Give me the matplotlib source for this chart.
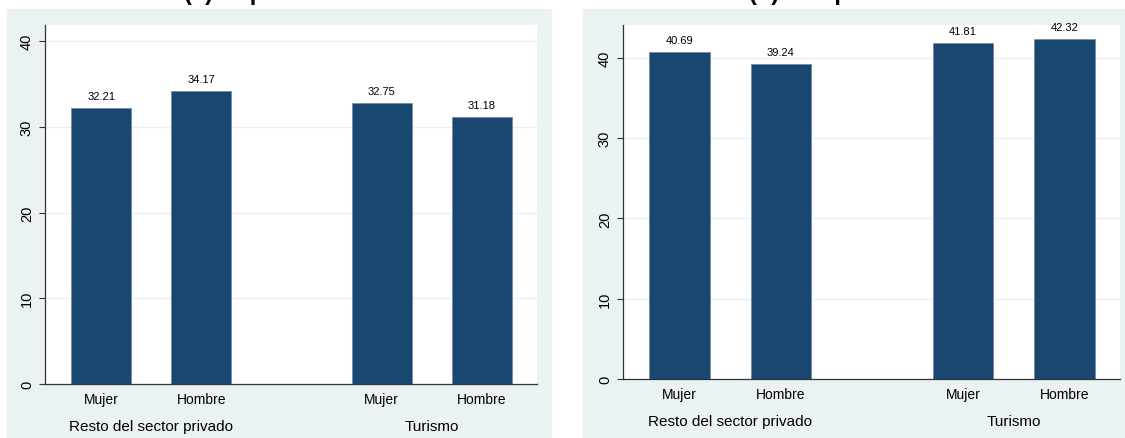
import matplotlib
matplotlib.use("Agg")
import matplotlib.pyplot as plt
from matplotlib.patches import Rectangle

plt.rcParams["font.family"] = ["Liberation Sans", "DejaVu Sans"]

# data
sexes = ["Mujer", "Hombre"]
sectors = ["Resto del sector privado", "Turismo"]
titles = ["(a) Dependientes", "(b) Independientes"]
dependientes = [32.21, 34.17, 32.75, 31.18]
independientes = [40.69, 39.24, 41.81, 42.32]
yticks = [0, 10, 20, 30, 40]

BAR = "#1a476f"
BG = "#eaf2f3"
W, H = 1125, 439

fig = plt.figure(figsize=(W / 100, H / 100), dpi=100)

def fx(px):
    return px / W

def fy(py):
    return 1 - py / H

# panel backgrounds (pixel boxes: left, top, right, bottom)
panels = [(7, 10, 551, 439), (583, 10, 1125, 439)]
plots = [(45, 26, 537, 385), (623, 26, 1120, 380)]
ylims = [41.87, 44.1]

pos = [0, 1, 2.8, 3.8]
for k, (values, title) in enumerate(zip([dependientes, independientes], titles)):
    l, t, r, b = panels[k]
    fig.patches.append(Rectangle((fx(l), fy(b)), fx(r - l), (b - t) / H,
                                 transform=fig.transFigure, color=BG, zorder=-5))
    # title sits mostly above the top edge, as in the cropped original
    fig.text(fx((l + r) / 2), fy(0), title, ha="center", va="baseline",
             fontsize=17, fontweight="bold")

    l, t, r, b = plots[k]
    ax = fig.add_axes([fx(l), fy(b), fx(r - l), (b - t) / H])
    ax.set_facecolor("white")
    bars = ax.bar(pos, values, width=0.6, color=BAR, edgecolor="#5f7f9f",
                  linewidth=0.4, zorder=3)
    ax.bar_label(bars, labels=[f"{v:.2f}" for v in values], padding=5, fontsize=8)

    ax.set_xlim(-0.56, 4.35)
    ax.set_ylim(0, ylims[k])
    ax.set_yticks(yticks)
    ax.set_yticklabels([str(v) for v in yticks], rotation=90, va="center", fontsize=10.5)
    ax.tick_params(axis="y", length=4, width=0.8, color="#333333", pad=4)
    ax.grid(axis="y", color=BG, linewidth=1, zorder=0)

    ax.set_xticks(pos)
    ax.set_xticklabels(sexes * 2, fontsize=10)
    ax.tick_params(axis="x", length=0, pad=6)

    for spine in ["top", "right"]:
        ax.spines[spine].set_visible(False)
    for spine in ["left", "bottom"]:
        ax.spines[spine].set_color("#333333")
        ax.spines[spine].set_linewidth(0.9)

    for g, name in enumerate(sectors):
        cx = (pos[2 * g] + pos[2 * g + 1]) / 2
        ax.annotate(name, xy=(cx, 0), xycoords=("data", "axes fraction"),
                    xytext=(0, -33), textcoords="offset points",
                    ha="center", va="baseline", fontsize=11, annotation_clip=False)

fig.savefig("out.png", dpi=100)
